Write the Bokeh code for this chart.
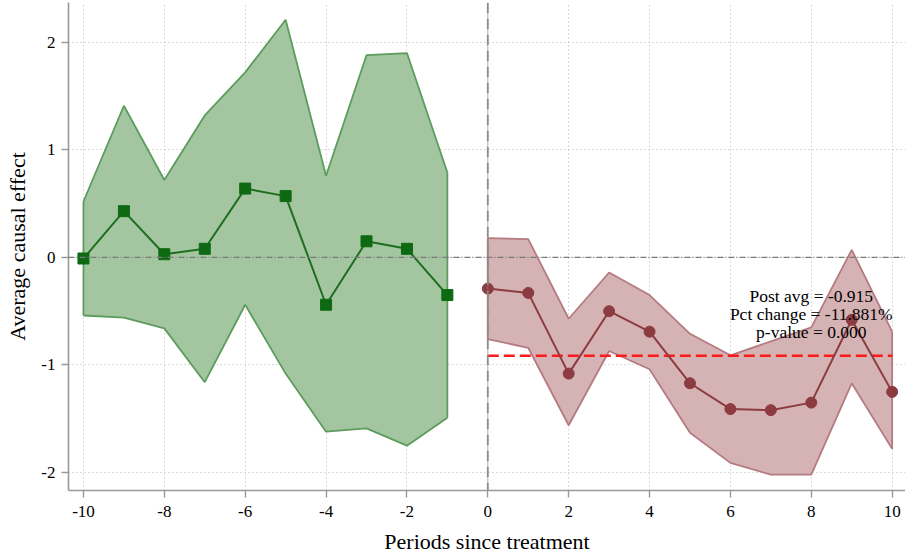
from bokeh.plotting import figure
from bokeh.models import Range1d, FixedTicker, Span, ColumnDataSource
from bokeh.core.properties import value
from bokeh.embed import file_html
from bokeh.resources import INLINE

# Event-study estimates with 95% confidence bands
pre_periods = [-10, -9, -8, -7, -6, -5, -4, -3, -2, -1]
pre_est = [-0.01, 0.43, 0.03, 0.08, 0.64, 0.57, -0.44, 0.15, 0.08, -0.35]
pre_upper = [0.52, 1.41, 0.72, 1.32, 1.72, 2.21, 0.76, 1.88, 1.90, 0.79]
pre_lower = [-0.54, -0.56, -0.66, -1.16, -0.44, -1.08, -1.62, -1.59, -1.75, -1.49]

post_periods = [0, 1, 2, 3, 4, 5, 6, 7, 8, 9, 10]
post_est = [-0.29, -0.33, -1.08, -0.50, -0.69, -1.17, -1.41, -1.42, -1.35, -0.58, -1.25]
post_upper = [0.18, 0.17, -0.57, -0.14, -0.35, -0.71, -0.91, -0.78, -0.65, 0.07, -0.69]
post_lower = [-0.76, -0.84, -1.56, -0.87, -1.04, -1.63, -1.91, -2.02, -2.02, -1.17, -1.78]

post_avg = -0.915
pct_change = -11.881
p_value = 0.000

x_ticks = [-10, -8, -6, -4, -2, 0, 2, 4, 6, 8, 10]
x_tick_labels = ["-10", "-8", "-6", "-4", "-2", "0", "2", "4", "6", "8", "10"]
y_ticks = [-2, -1, 0, 1, 2]
y_tick_labels = ["-2", "-1", "0", "1", "2"]

SERIF = "Liberation Serif"

p = figure(width=905, height=556, output_backend="svg", toolbar_location=None,
           x_range=Range1d(-10.37, 10.33), y_range=Range1d(-2.167, 2.37),
           min_border_left=68, min_border_right=0, min_border_top=2, min_border_bottom=64)
p.outline_line_color = None
p.background_fill_color = "white"
p.border_fill_color = "white"

# grid
for g in (p.xgrid, p.ygrid):
    g.grid_line_color = "#b5b5b5"
    g.grid_line_dash = "1 3"
    g.grid_line_width = 1
p.xgrid.ticker = FixedTicker(ticks=x_ticks)
p.ygrid.ticker = FixedTicker(ticks=y_ticks)

# axes
p.xaxis.ticker = FixedTicker(ticks=x_ticks)
p.yaxis.ticker = FixedTicker(ticks=y_ticks)
p.xaxis.major_label_overrides = {t: s for t, s in zip(x_ticks, x_tick_labels)}
p.yaxis.major_label_overrides = {t: s for t, s in zip(y_ticks, y_tick_labels)}
for ax in (p.xaxis, p.yaxis):
    ax.axis_line_color = "#9a9a9a"
    ax.axis_line_width = 1.6
    ax.major_tick_line_color = "#9a9a9a"
    ax.major_tick_line_width = 1.4
    ax.major_tick_out = 7
    ax.major_tick_in = 0
    ax.minor_tick_line_color = None
    ax.major_label_text_font = SERIF
    ax.major_label_text_font_size = "17px"
    ax.major_label_text_color = "black"
    ax.axis_label_text_font = SERIF
    ax.axis_label_text_font_size = "22px"
    ax.axis_label_text_font_style = "normal"
    ax.axis_label_text_color = "black"
p.xaxis.axis_label = "Periods since treatment"
p.yaxis.axis_label = "Average causal effect"
p.xaxis.major_label_standoff = 8
p.yaxis.major_label_standoff = 6
p.xaxis.axis_label_standoff = 9
p.yaxis.axis_label_standoff = 8

pre = ColumnDataSource(dict(x=pre_periods, y=pre_est, lo=pre_lower, hi=pre_upper))
post = ColumnDataSource(dict(x=post_periods, y=post_est, lo=post_lower, hi=post_upper))

# pre-treatment band
p.varea(x="x", y1="lo", y2="hi", source=pre, fill_color="#a3c6a1", fill_alpha=1)
p.line(x="x", y="hi", source=pre, line_color="#5c9c5c", line_width=1.8)
p.line(x="x", y="lo", source=pre, line_color="#5c9c5c", line_width=1.8)
p.segment(x0=pre_periods[0], y0=pre_lower[0], x1=pre_periods[0], y1=pre_upper[0],
          line_color="#5c9c5c", line_width=1.8)
p.segment(x0=pre_periods[-1], y0=pre_lower[-1], x1=pre_periods[-1], y1=pre_upper[-1],
          line_color="#5c9c5c", line_width=1.8)

# post-treatment band
p.varea(x="x", y1="lo", y2="hi", source=post, fill_color="#d5b2b4", fill_alpha=1)
p.line(x="x", y="hi", source=post, line_color="#b47b80", line_width=1.8)
p.line(x="x", y="lo", source=post, line_color="#b47b80", line_width=1.8)
p.segment(x0=post_periods[0], y0=post_lower[0], x1=post_periods[0], y1=post_upper[0],
          line_color="#b47b80", line_width=1.8)
p.segment(x0=post_periods[-1], y0=post_lower[-1], x1=post_periods[-1], y1=post_upper[-1],
          line_color="#b47b80", line_width=1.8)

# reference lines
p.add_layout(Span(location=0, dimension="width", line_color="#7a7a7a",
                  line_width=1.3, line_dash="6 2 1 2"))
p.add_layout(Span(location=0, dimension="height", line_color="#8a8a8a",
                  line_width=1.8, line_dash="11 2 1 2"))

# post-period average
p.line(x=[post_periods[0], post_periods[-1]], y=[post_avg, post_avg],
       line_color="#ff1a1a", line_width=2.5, line_dash="11 5")

# point estimates
p.line(x="x", y="y", source=pre, line_color="#1f6e1f", line_width=2)
p.scatter(x="x", y="y", source=pre, marker="square", size=11,
          fill_color="#0e6a12", line_color="#0e6a12")
p.line(x="x", y="y", source=post, line_color="#8c3b40", line_width=2)
p.scatter(x="x", y="y", source=post, marker="circle", size=11,
          fill_color="#8c3b40", line_color="#8c3b40")

# summary statistics
stats = [f"Post avg = {post_avg:.3f}",
         f"Pct change = {pct_change:.3f}%",
         f"p-value = {p_value:.3f}"]
p.text(x=[8.0, 8.0, 8.0], y=[-0.362, -0.528, -0.693], text=stats,
       text_font=value(SERIF), text_font_size="17.5px", text_color="black",
       text_align="center", text_baseline="middle")

open("out.html", "w").write(file_html(p, INLINE))
